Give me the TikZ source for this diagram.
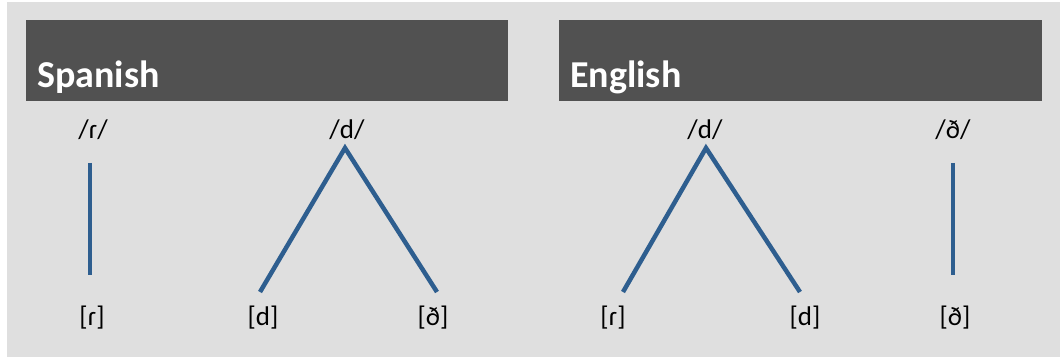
\documentclass[tikz,border=0pt]{standalone}
\usepackage{fontspec}
\setmainfont{Carlito}
\definecolor{bg}{HTML}{DFDFDF}
\definecolor{bar}{HTML}{515151}
\definecolor{branch}{HTML}{2E5E8F}
\begin{document}
\begin{tikzpicture}[x=1pt,y=-1pt,
  title/.style={anchor=base west,text=white,font=\fontsize{38}{40}\selectfont\bfseries,inner sep=0pt},
  phon/.style={font=\fontsize{27}{29}\selectfont,inner sep=0pt,text=black},
  branchline/.style={draw=branch,line width=4.5pt}]
\useasboundingbox (0,0) rectangle (1060,358);
\fill[bg] (7,2) rectangle (1060,357);
\fill[bar] (26,20) rectangle (508,101);
\fill[bar] (559,20) rectangle (1042,101);
\node[title] (tsp) at (37,88) {Spanish};
\node[title] (ten) at (570,88) {English};
% Spanish
\node[phon] (sr) at (93,130) {/ɾ/};
\node[phon] (sd) at (347,130) {/d/};
\node[phon] (sra) at (92,318) {[ɾ]};
\node[phon] (sda) at (263,318) {[d]};
\node[phon] (sdh) at (433,318) {[ð]};
\coordinate (s1t) at (90,163); \coordinate (s1b) at (90,275);
\coordinate (s2t) at (345,148); \coordinate (s2l) at (260,292); \coordinate (s2r) at (437,292);
\draw[branchline] (s1t) -- (s1b);
\draw[branchline] (s2l) -- (s2t) -- (s2r);
% English
\node[phon] (ed) at (705,130) {/d/};
\node[phon] (edh) at (953,130) {/ð/};
\node[phon] (era) at (613,318) {[ɾ]};
\node[phon] (eda) at (805,318) {[d]};
\node[phon] (edha) at (955,318) {[ð]};
\coordinate (e1t) at (706,148); \coordinate (e1l) at (623,292); \coordinate (e1r) at (800,292);
\coordinate (e2t) at (953,163); \coordinate (e2b) at (953,275);
\draw[branchline] (e1l) -- (e1t) -- (e1r);
\draw[branchline] (e2t) -- (e2b);
\end{tikzpicture}
\end{document}
